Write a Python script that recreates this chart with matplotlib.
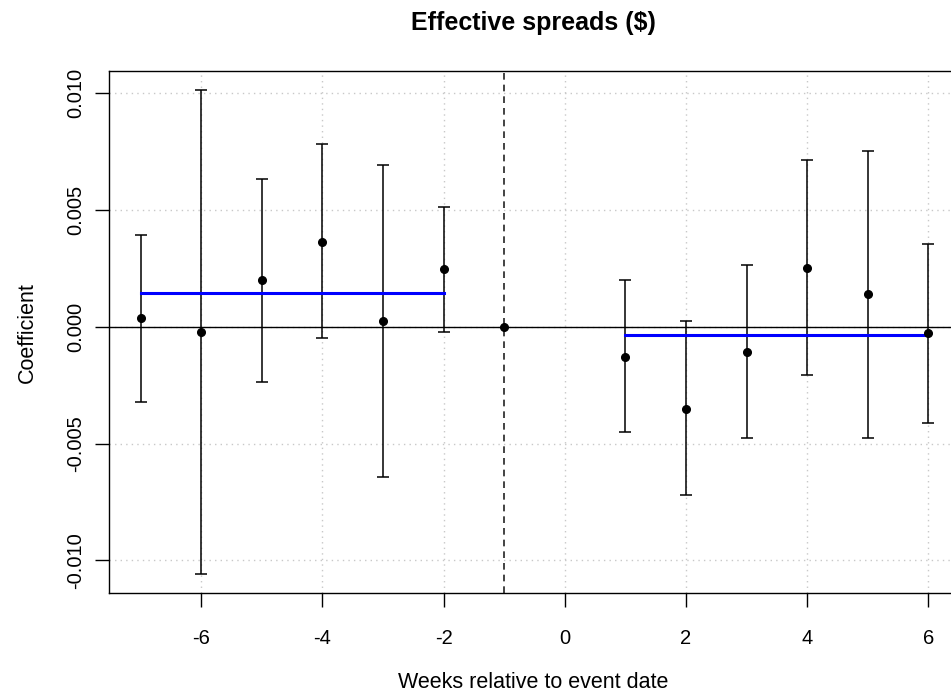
import matplotlib
matplotlib.use("Agg")
from matplotlib import pyplot as plt
import numpy as np

plt.rcParams['font.family'] = ['Liberation Sans', 'DejaVu Sans']
plt.rcParams['axes.unicode_minus'] = False

# weeks relative to event, point estimates and 95% CI bounds
weeks = [-7, -6, -5, -4, -3, -2, -1, 1, 2, 3, 4, 5, 6]
coef = [0.00036, -0.00024, 0.00199, 0.00364, 0.00026, 0.00246, 0.0,
        -0.00128, -0.00352, -0.00107, 0.00251, 0.00139, -0.00028]
upper = [0.00393, 0.01012, 0.00632, 0.00781, 0.00692, 0.00514, np.nan,
         0.00200, 0.00024, 0.00263, 0.00714, 0.00752, 0.00355]
lower = [-0.00324, -0.01059, -0.00238, -0.00050, -0.00645, -0.00021, np.nan,
         -0.00450, -0.00720, -0.00475, -0.00207, -0.00475, -0.00411]

# average effect before / after the event
pre_weeks = [-7, -2]
pre_mean = 0.00143
post_weeks = [1, 6]
post_mean = -0.00037

event_week = -1

fig = plt.figure(figsize=(9.51, 6.98), dpi=100)
ax = fig.add_axes([109/951, 1 - 593.3/698, (960 - 109)/951, (593.3 - 71)/698])

w = np.array(weeks, dtype=float)
c = np.array(coef)
u = np.array(upper)
l = np.array(lower)
ok = ~np.isnan(u)

ax.grid(True, color="#c8c8c8", linestyle=(0, (1, 3)), linewidth=1)
ax.set_axisbelow(True)
ax.axhline(0, color="black", linewidth=1)
ax.axvline(event_week, color="#222222", linestyle=(0, (4, 3)), linewidth=1.2)

ax.errorbar(w[ok], c[ok], yerr=[c[ok] - l[ok], u[ok] - c[ok]], fmt="none",
            ecolor="black", elinewidth=1.1, capsize=4.5, capthick=1.1)
ax.plot(w, c, "o", color="black", markersize=5.5, zorder=5)

ax.plot(pre_weeks, [pre_mean, pre_mean], color="#0000ff", linewidth=2.2, zorder=4)
ax.plot(post_weeks, [post_mean, post_mean], color="#0000ff", linewidth=2.2, zorder=4)

ax.set_xlim(-7.52, 6.52)
ax.set_ylim(-0.01141, 0.01095)
ax.set_xticks([-6, -4, -2, 0, 2, 4, 6])
ax.set_yticks([-0.010, -0.005, 0.0, 0.005, 0.010])
ax.set_yticklabels(["-0.010", "-0.005", "0.000", "0.005", "0.010"],
                   rotation=90, va="center")
ax.tick_params(axis="both", labelsize=14.5, length=10, width=1, direction="out")
ax.tick_params(axis="x", pad=16)
ax.tick_params(axis="y", pad=7)
for s in ax.spines.values():
    s.set_linewidth(1)

fig.text(533/951, 1 - 23/698, "Effective spreads ($)", fontsize=18,
         fontweight="bold", ha="center", va="center")
fig.text(533/951, 1 - 683/698, "Weeks relative to event date", fontsize=15.5,
         ha="center", va="center")
fig.text(27/951, 1 - 333/698, "Coefficient", fontsize=15.5, rotation=90,
         ha="center", va="center")

fig.savefig("out.png", dpi=100)
